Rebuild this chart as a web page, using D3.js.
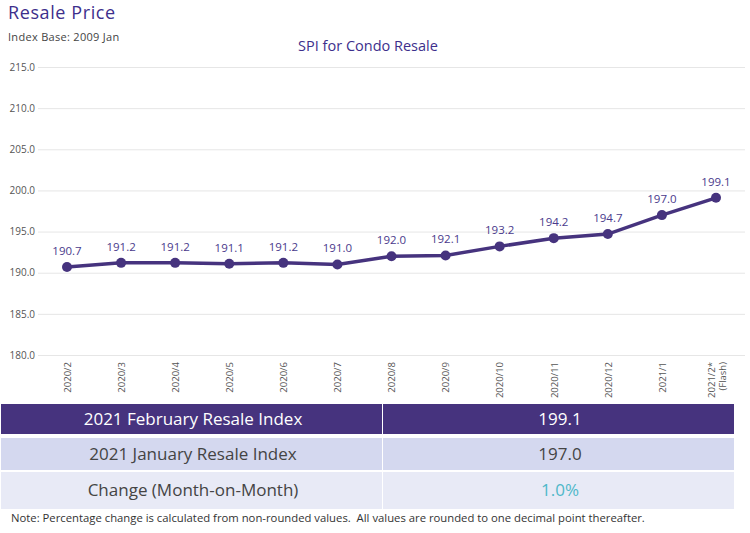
<!DOCTYPE html>
<html>
<head>
<meta charset="utf-8">
<script src="https://cdn.jsdelivr.net/npm/d3@7"></script>
<style>
  body { margin: 0; background: #fff; }
  text { font-family: "Open Sans", Lato, sans-serif; }
</style>
</head>
<body>
<div id="chart"></div>
<script>
// data
const months = ["2020/2", "2020/3", "2020/4", "2020/5", "2020/6", "2020/7", "2020/8",
  "2020/9", "2020/10", "2020/11", "2020/12", "2021/1", "2021/2*"];
const spi = [190.7, 191.2, 191.2, 191.1, 191.2, 191.0, 192.0, 192.1, 193.2, 194.2, 194.7, 197.0, 199.1];
const yTicks = [180, 185, 190, 195, 200, 205, 210, 215];
const tableLabels = ["2021 February Resale Index", "2021 January Resale Index", "Change (Month-on-Month)"];
const tableValues = ["199.1", "197.0", "1.0%"];

const purple = "#46337e";
const W = 750, H = 533;

const svg = d3.select("#chart").append("svg")
  .attr("width", W).attr("height", H);

// titles
svg.append("text").attr("x", 8).attr("y", 19)
  .attr("font-size", 18).attr("letter-spacing", 0.6)
  .attr("fill", "#3d2f8c").text("Resale Price");
svg.append("text").attr("x", 8).attr("y", 41)
  .attr("font-size", 11).attr("letter-spacing", 0.3)
  .attr("fill", "#444").text("Index Base: 2009 Jan");
svg.append("text").attr("x", 368).attr("y", 51).attr("text-anchor", "middle")
  .attr("font-size", 14.5).attr("fill", "#3d2f8c").text("SPI for Condo Resale");

// scales
const x = d3.scalePoint().domain(months).range([67, 716]);
const y = d3.scaleLinear().domain([180, 215]).range([355, 67]);

// grid + y labels
const yAxis = svg.append("g")
  .attr("transform", "translate(38,0)")
  .call(d3.axisLeft(y).tickValues(yTicks).tickSize(-707).tickFormat(d3.format(".1f")));
yAxis.select(".domain").remove();
yAxis.selectAll(".tick line").attr("stroke", "#e6e6e6");
yAxis.selectAll(".tick text").attr("x", -3).attr("font-size", 10)
  .attr("fill", "#555").style("font-family", "'Open Sans', sans-serif");

// x labels (rotated)
const xAxis = svg.append("g")
  .attr("transform", "translate(0,355)")
  .call(d3.axisBottom(x).tickSize(0));
xAxis.select(".domain").remove();
xAxis.selectAll(".tick text")
  .attr("transform", "rotate(-90)")
  .attr("text-anchor", "end")
  .attr("x", -7).attr("y", 0).attr("dy", "0.35em")
  .attr("font-size", 9.5).attr("fill", "#555")
  .style("font-family", "'Open Sans', sans-serif");
// flash note on last tick
const lastTick = xAxis.selectAll(".tick").filter(d => d === months[months.length - 1]);
lastTick.select("text").attr("dy", "-0.15em");
lastTick.append("text")
  .attr("transform", "rotate(-90)")
  .attr("text-anchor", "end")
  .attr("x", -7).attr("y", 0).attr("dy", "1.0em")
  .attr("font-size", 9.5).attr("fill", "#555")
  .style("font-family", "'Open Sans', sans-serif")
  .text("(Flash)");

// line
svg.append("path")
  .datum(spi)
  .attr("fill", "none")
  .attr("stroke", purple)
  .attr("stroke-width", 3.5)
  .attr("d", d3.line().x((d, i) => x(months[i])).y(d => y(d)));

svg.selectAll(".dot").data(spi).join("circle")
  .attr("class", "dot")
  .attr("cx", (d, i) => x(months[i]))
  .attr("cy", d => y(d))
  .attr("r", 5)
  .attr("fill", purple);

svg.selectAll(".val").data(spi).join("text")
  .attr("class", "val")
  .attr("x", (d, i) => x(months[i]))
  .attr("y", d => y(d) - 12)
  .attr("text-anchor", "middle")
  .attr("font-size", 11.5)
  .attr("fill", "#4a3a8c")
  .text(d => d.toFixed(1));

// table
const rows = [
  { top: 404, h: 30, fill: "#46337e", color: "#fff" },
  { top: 438, h: 32, fill: "#d4d8ef", color: "#444" },
  { top: 472, h: 37, fill: "#e8eaf6", color: "#444" }
];
const tbl = svg.append("g");
rows.forEach((r, i) => {
  tbl.append("rect").attr("x", 1).attr("y", r.top).attr("width", 381).attr("height", r.h).attr("fill", r.fill);
  tbl.append("rect").attr("x", 383).attr("y", r.top).attr("width", 351).attr("height", r.h).attr("fill", r.fill);
  tbl.append("text").attr("x", 193).attr("y", r.top + r.h / 2).attr("dy", "0.35em")
    .attr("text-anchor", "middle").attr("font-size", 17).attr("fill", r.color)
    .text(tableLabels[i]);
  tbl.append("text").attr("x", 560).attr("y", r.top + r.h / 2).attr("dy", "0.35em")
    .attr("text-anchor", "middle").attr("font-size", 17)
    .attr("fill", i === 2 ? "#4fb8c9" : r.color)
    .text(tableValues[i]);
});

svg.append("text").attr("x", 11).attr("y", 522)
  .attr("font-size", 11.3).attr("fill", "#333")
  .text("Note: Percentage change is calculated from non-rounded values.  All values are rounded to one decimal point thereafter.")
  .style("white-space", "pre");
</script>
</body>
</html>
